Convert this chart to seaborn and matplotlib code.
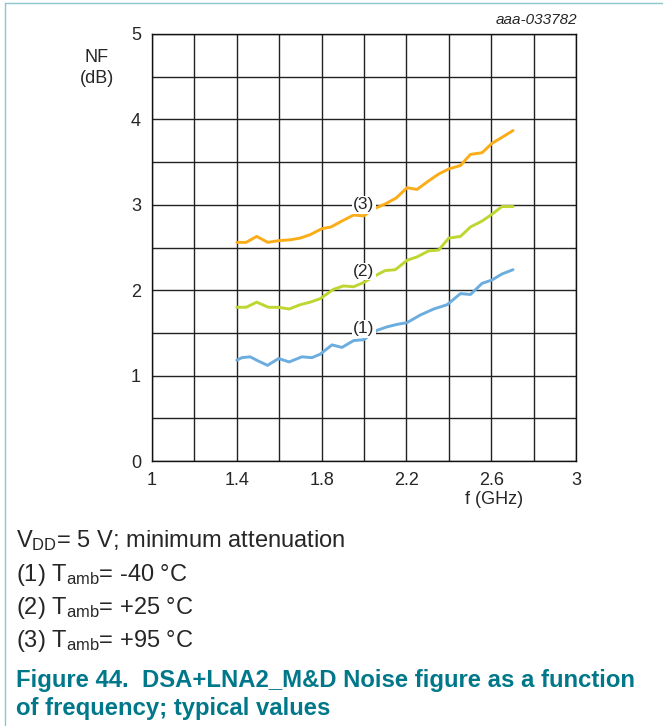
import matplotlib
matplotlib.use("Agg")
from matplotlib import pyplot as plt
from matplotlib.lines import Line2D
from matplotlib.ticker import MultipleLocator, FixedLocator
import pandas as pd
import seaborn as sns

# (1) Tamb = -40 C
freq_1 = [1.40, 1.424, 1.463, 1.502, 1.545, 1.597, 1.647, 1.707, 1.754, 1.793, 1.849, 1.896,
          1.951, 1.998, 2.061, 2.108, 2.156, 2.203, 2.266, 2.329, 2.392, 2.455, 2.502, 2.557,
          2.604, 2.651, 2.703]
nf_1 = [1.18, 1.21, 1.22, 1.17, 1.12, 1.20, 1.16, 1.22, 1.21, 1.25, 1.36, 1.33,
        1.41, 1.42, 1.53, 1.57, 1.60, 1.62, 1.71, 1.78, 1.83, 1.96, 1.95, 2.08,
        2.12, 2.19, 2.24]

# (2) Tamb = +25 C
freq_2 = [1.40, 1.444, 1.494, 1.549, 1.597, 1.647, 1.699, 1.746, 1.793, 1.856, 1.903, 1.951,
          1.998, 2.061, 2.10, 2.148, 2.203, 2.25, 2.305, 2.352, 2.40, 2.455, 2.502, 2.557,
          2.604, 2.651, 2.703]
nf_2 = [1.80, 1.80, 1.86, 1.80, 1.80, 1.78, 1.83, 1.86, 1.90, 2.01, 2.05, 2.04,
        2.09, 2.18, 2.23, 2.24, 2.35, 2.39, 2.46, 2.47, 2.61, 2.63, 2.74, 2.81,
        2.89, 2.98, 2.98]

# (3) Tamb = +95 C
freq_3 = [1.40, 1.444, 1.494, 1.546, 1.597, 1.652, 1.699, 1.746, 1.801, 1.844, 1.896, 1.951,
          1.998, 2.045, 2.10, 2.152, 2.203, 2.25, 2.305, 2.352, 2.40, 2.455, 2.502, 2.557,
          2.604, 2.651, 2.703]
nf_3 = [2.56, 2.56, 2.63, 2.56, 2.58, 2.59, 2.61, 2.65, 2.72, 2.74, 2.81, 2.88,
        2.87, 2.95, 3.01, 3.08, 3.20, 3.18, 3.28, 3.36, 3.42, 3.46, 3.59, 3.61,
        3.72, 3.79, 3.87]

curve_labels = ["(1)", "(2)", "(3)"]
label_pos = [(2.0, 1.55), (2.0, 2.22), (2.0, 3.0)]
colors = ["#6cade0", "#bfd631", "#fbad18"]

x_ticks = [1, 1.4, 1.8, 2.2, 2.6, 3]
y_ticks = [0, 1, 2, 3, 4, 5]

sns.set_style("white")
plt.rcParams["font.family"] = ["Liberation Sans", "DejaVu Sans"]
plt.rcParams["mathtext.default"] = "regular"

fig = plt.figure(figsize=(6.63, 7.26), dpi=100)
ax = fig.add_axes([152 / 663, 1 - 461 / 726, 424 / 663, 427 / 726])

for f, nf, c in zip([freq_1, freq_2, freq_3], [nf_1, nf_2, nf_3], colors):
    df = pd.DataFrame({"f": f, "nf": nf})
    sns.lineplot(data=df, x="f", y="nf", ax=ax, color=c, linewidth=2.1, zorder=3)

for lab, (x, y) in zip(curve_labels, label_pos):
    ax.text(x, y, lab, ha="center", va="center", fontsize=12.5, zorder=4,
            bbox=dict(facecolor="white", edgecolor="none", pad=1.0))

ax.set_xlim(1, 3)
ax.set_ylim(0, 5)
ax.xaxis.set_minor_locator(MultipleLocator(0.2))
ax.yaxis.set_minor_locator(MultipleLocator(0.5))
ax.xaxis.set_major_locator(FixedLocator(x_ticks))
ax.yaxis.set_major_locator(FixedLocator(y_ticks))
ax.set_xticklabels([f"{t:g}" for t in x_ticks])
ax.set_yticklabels([str(t) for t in y_ticks])
ax.grid(which="both", color="#222222", linewidth=1.0)
ax.tick_params(axis="x", which="both", length=0, labelsize=13, pad=8)
ax.tick_params(axis="y", which="both", length=0, labelsize=13, pad=8)
for s in ax.spines.values():
    s.set_color("#111111")
    s.set_linewidth(1.0)
ax.set_xlabel("")
ax.set_ylabel("")

fig.text(97 / 663, 1 - 68 / 726, "NF\n(dB)", ha="center", va="center", fontsize=13, linespacing=1.3)
fig.text(494 / 663, 1 - 499 / 726, "f (GHz)", ha="center", va="center", fontsize=13)
fig.text(577 / 663, 1 - 20 / 726, "aaa-033782", ha="right", va="center", fontsize=11, style="italic")

notes = [
    "V$_{DD}$= 5 V; minimum attenuation",
    "(1) T$_{amb}$= -40 °C",
    "(2) T$_{amb}$= +25 °C",
    "(3) T$_{amb}$= +95 °C",
]
note_y = [541, 575, 608, 641]
for t, y in zip(notes, note_y):
    fig.text(16 / 663, 1 - y / 726, t, ha="left", va="center", fontsize=17)

cap_kw = dict(ha="left", va="center", fontsize=17.2, fontweight="bold", color="#00788a")
fig.text(16 / 663, 1 - 680 / 726, "Figure 44.  DSA+LNA2_M&D Noise figure as a function", **cap_kw)
fig.text(16 / 663, 1 - 708 / 726, "of frequency; typical values", **cap_kw)

border = "#8cc6cf"
fig.add_artist(Line2D([5 / 663, 5 / 663], [0, 1 - 3 / 726], transform=fig.transFigure, color=border, linewidth=1.0))
fig.add_artist(Line2D([5 / 663, 1], [1 - 3 / 726, 1 - 3 / 726], transform=fig.transFigure, color=border, linewidth=1.0))

fig.savefig("out.png", dpi=100)
